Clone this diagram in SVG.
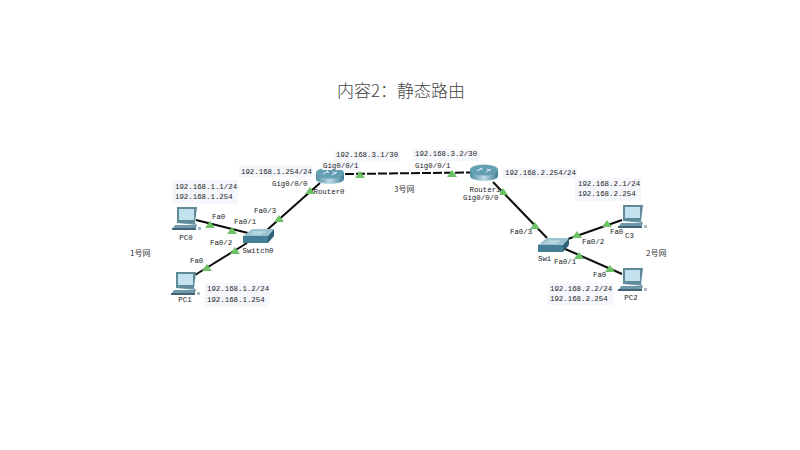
<svg xmlns="http://www.w3.org/2000/svg" width="800" height="450" viewBox="0 0 800 450">
<style>
.t{font-family:"Liberation Mono","Noto Sans CJK SC",monospace;font-size:7.4px;fill:#222}
.c{font-family:"Noto Sans CJK SC","Liberation Sans",sans-serif;font-size:8px;fill:#333}
.n{text-anchor:middle}
.bg{fill:#f5f7fc}
.w{fill:#fff}
.l{stroke:#0b0b0b;stroke-width:2;fill:none}
.d{stroke-dasharray:9 2}
.title{font-family:"Noto Sans CJK SC","Liberation Sans",sans-serif;font-size:17px;fill:#444;font-weight:300}
</style>
<defs>
<path id="tri" d="M-5 3H5L0-4Z" fill="#6cc265"/>
<g id="pc">
<path d="M-7-11H13L11 5H-7Z" fill="#5e8a9a"/>
<rect x="-5" y="-9" width="15" height="11" fill="#c4e2ee"/>
<path d="M-7 5H11L13 7H-9L-12 12H11L13 7Z" fill="#6f98a8"/>
<path d="M-12 10H12V12H-12Z" fill="#3f6577"/>
<rect x="14" y="9" width="3" height="3" fill="#a9bcc4"/>
</g>
<linearGradient id="rg" x1="0" x2="1" y1="0" y2="0"><stop offset="0" stop-color="#4f8da3"/><stop offset=".5" stop-color="#bfdbe5"/><stop offset="1" stop-color="#3f7d94"/></linearGradient>
<g id="router">
<path d="M-14-3V3A14 5 0 0 0 14 3V-3Z" fill="url(#rg)"/>
<ellipse cx="0" cy="-3" rx="14" ry="5.500" fill="#659fb4"/>
<path d="M-7-2L-2-5M2-1L7-4M-4-5L-1-3M3-4L6-2" stroke="#e4f0f4" stroke-width="1"/>
</g>
<g id="sw">
<path d="M0 7L9 0H31L25 7Z" fill="#9ac3d2"/>
<path d="M0 7H25V14H0Z" fill="#457f96"/>
<path d="M25 7L31 0V7L25 14Z" fill="#2f6478"/>
<path d="M10 3H22M7 5H19" stroke="#e8f2f5" stroke-width=".7"/>
</g>
</defs>
<rect width="800" height="450" fill="#fff"/>
<text class="title" x="337" y="97">内容2：静态路由</text>
<g id="connectors">
<path class="l" d="M196 220L248 233"/>
<path class="l" d="M195 275L247 243"/>
<path class="l" d="M267 230L320 183"/>
<path class="l d" d="M345 174L470 172.500"/>
<path class="l" d="M493 182L547 238"/>
<path class="l" d="M568 239L622 220"/>
<path class="l" d="M563 248L622 274"/>
</g>
<g id="PC0"><use href="#pc" x="184" y="218"/><text class="t n" x="186" y="240">PC0</text></g>
<g id="PC1"><use href="#pc" x="183" y="283"/><text class="t n" x="185" y="302">PC1</text></g>
<g id="Switch0"><use href="#sw" x="243" y="229"/><text class="t n" x="258" y="253">Switch0</text></g>
<g id="Router0"><use href="#router" x="330" y="176"/><text class="t n" x="329" y="194">Router0</text></g>
<g id="Router1"><use href="#router" x="484" y="173"/><text class="t n" x="485" y="192">Router1</text></g>
<g id="Switch1"><use href="#sw" x="538" y="238"/><text class="t" x="538" y="261">Swi</text></g>
<g id="PC3"><use href="#pc" x="630" y="216"/><text class="t" x="625" y="238">C3</text></g>
<g id="PC2"><use href="#pc" x="630" y="279"/><text class="t n" x="631" y="300">PC2</text></g>
<g id="link-markers">
<use href="#tri" x="210" y="225"/><use href="#tri" x="232" y="231"/>
<use href="#tri" x="235" y="251"/><use href="#tri" x="207" y="268"/>
<use href="#tri" x="279" y="219"/><use href="#tri" x="310" y="191"/>
<use href="#tri" x="360" y="175"/><use href="#tri" x="452" y="174"/>
<use href="#tri" x="503" y="192"/><use href="#tri" x="535" y="226"/>
<use href="#tri" x="577" y="235"/><use href="#tri" x="607" y="224"/>
<use href="#tri" x="579" y="256"/><use href="#tri" x="610" y="269"/>
</g>
<g id="labels">
<rect class="bg" x="172" y="180" width="66" height="24"/>
<text class="t" x="175" y="189">192.168.1.1/24</text><text class="t" x="175" y="199">192.168.1.254</text>
<rect class="bg" x="204" y="283" width="66" height="24"/>
<text class="t" x="207" y="291">192.168.1.2/24</text><text class="t" x="207" y="302">192.168.1.254</text>
<rect class="bg" x="239" y="165" width="74" height="12"/>
<text class="t" x="241" y="174">192.168.1.254/24</text>
<rect class="bg" x="334" y="150" width="66" height="12"/>
<text class="t" x="336" y="157">192.168.3.1/30</text>
<rect class="bg" x="413" y="149" width="66" height="12"/>
<text class="t" x="415" y="156">192.168.3.2/30</text>
<rect class="bg" x="503" y="168" width="74" height="11"/>
<text class="t" x="505" y="175">192.168.2.254/24</text>
<rect class="bg" x="575" y="178" width="66" height="23"/>
<text class="t" x="578" y="186">192.168.2.1/24</text><text class="t" x="578" y="196">192.168.2.254</text>
<rect class="bg" x="548" y="283" width="66" height="22"/>
<text class="t" x="550" y="291">192.168.2.2/24</text><text class="t" x="550" y="301">192.168.2.254</text>
<text class="t" x="272" y="186">Gig0/0/0</text>
<rect class="bg" x="322" y="161" width="38" height="9"/>
<text class="t" x="323" y="168">Gig0/0/1</text>
<text class="t" x="415" y="168">Gig0/0/1</text>
<rect class="w" x="462" y="192" width="38" height="10"/>
<text class="t" x="463" y="200">Gig0/0/0</text>
<text class="t" x="254" y="213">Fa0/3</text>
<text class="t" x="212" y="219">Fa0</text>
<text class="t" x="234" y="224">Fa0/1</text>
<text class="t" x="210" y="245">Fa0/2</text>
<text class="t" x="190" y="263">Fa0</text>
<text class="t" x="510" y="234">Fa0/3</text>
<text class="t" x="582" y="244">Fa0/2</text>
<text class="t" x="610" y="234">Fa0</text>
<text class="t" x="554" y="264">Fa0/1</text>
<text class="t" x="593" y="277">Fa0</text>
<text class="c" x="130" y="256">1号网</text>
<text class="c" x="394" y="192">3号网</text>
<text class="c" x="646" y="256">2号网</text>
</g>
</svg>
